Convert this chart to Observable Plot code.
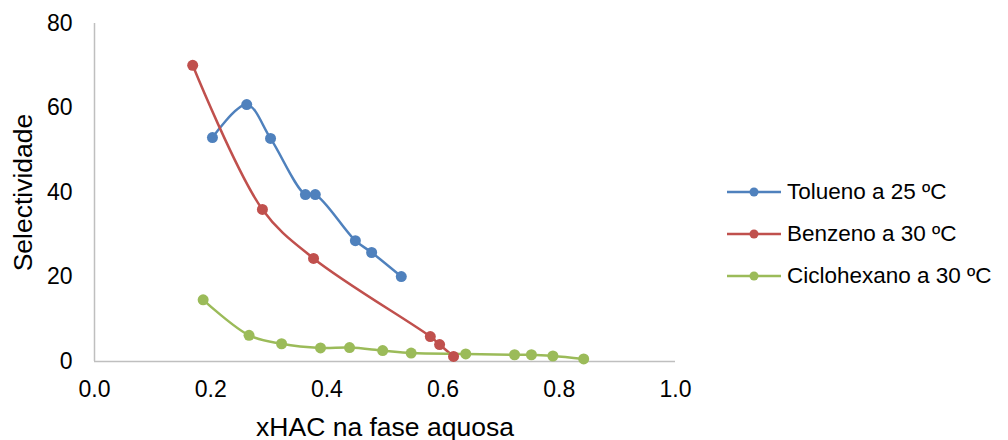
<!DOCTYPE html>
<html><head><meta charset="utf-8">
<script src="https://cdn.jsdelivr.net/npm/d3@7"></script>
<script src="https://cdn.jsdelivr.net/npm/@observablehq/plot@0.6"></script>
<style>
html,body{margin:0;padding:0;background:#fff;}
#wrap{position:relative;width:1008px;height:440px;font-family:"Liberation Sans",Arial,sans-serif;}
#legend{position:absolute;left:727px;top:171px;font-size:22.5px;color:#000;}
.li{display:flex;align-items:center;height:42px;}
.li svg{margin-right:6px;}
</style></head>
<body><div id="wrap"><div id="chart"></div><div id="legend"></div></div>
<script>
const seriesNames = ["Tolueno a 25 ºC", "Benzeno a 30 ºC", "Ciclohexano a 30 ºC"];
const colors = ["#4F81BD", "#C0504D", "#9BBB59"];
const tolX = [0.203,0.262,0.303,0.363,0.380,0.449,0.477,0.528];
const tolY = [53.0,60.8,52.8,39.5,39.5,28.6,25.8,20.1];
const benX = [0.169,0.289,0.377,0.578,0.594,0.618];
const benY = [70.1,36.0,24.4,5.9,4.0,1.2];
const cicX = [0.187,0.266,0.322,0.389,0.439,0.496,0.545,0.639,0.723,0.752,0.789,0.842];
const cicY = [14.6,6.2,4.2,3.2,3.3,2.6,2.0,1.8,1.6,1.6,1.3,0.6];
const xTicks = [0,0.2,0.4,0.6,0.8,1.0];
const yTicks = [0,20,40,60,80];

const rows = [];
[[tolX,tolY],[benX,benY],[cicX,cicY]].forEach(([xs,ys],i)=>{
  xs.forEach((x,j)=>rows.push({s:seriesNames[i], x, y:ys[j]}));
});

const chart = Plot.plot({
  width:1008, height:440,
  marginLeft:94, marginRight:333, marginTop:23, marginBottom:79,
  style:{fontFamily:'"Liberation Sans",Arial,sans-serif', fontSize:"23px", color:"#000", background:"#fff"},
  x:{domain:[0,1]},
  y:{domain:[0,80]},
  color:{domain:seriesNames, range:colors},
  marks:[
    Plot.ruleX([0],{stroke:"#BFBFBF", strokeWidth:1.5}),
    Plot.ruleY([0],{stroke:"#BFBFBF", strokeWidth:1.5}),
    Plot.axisX({ticks:xTicks, tickFormat:d3.format(".1f"), tickSize:0, tickPadding:19, fontSize:23, label:null}),
    Plot.axisX({ticks:[], tickSize:0, fontSize:26.5, label:"xHAC na fase aquosa", labelAnchor:"center", labelOffset:74, labelArrow:false}),
    Plot.axisY({ticks:yTicks, tickSize:0, tickPadding:22, fontSize:23, label:null}),
    Plot.axisY({ticks:[], tickSize:0, fontSize:26.5, label:"Selectividade", labelAnchor:"center", labelOffset:81, labelArrow:false}),
    Plot.line(rows,{x:"x", y:"y", z:"s", stroke:"s", strokeWidth:2.5, curve:"catmull-rom"}),
    Plot.dot(rows,{x:"x", y:"y", fill:"s", r:5.5})
  ]
});
document.getElementById("chart").appendChild(chart);

const lg = document.getElementById("legend");
seriesNames.forEach((n,i)=>{
  const d = document.createElement("div"); d.className="li";
  d.innerHTML = `<svg width="54" height="12"><line x1="0" y1="6" x2="54" y2="6" stroke="${colors[i]}" stroke-width="2.5"/><circle cx="27" cy="6" r="4.5" fill="${colors[i]}"/></svg><span>${n}</span>`;
  lg.appendChild(d);
});
</script></body></html>
